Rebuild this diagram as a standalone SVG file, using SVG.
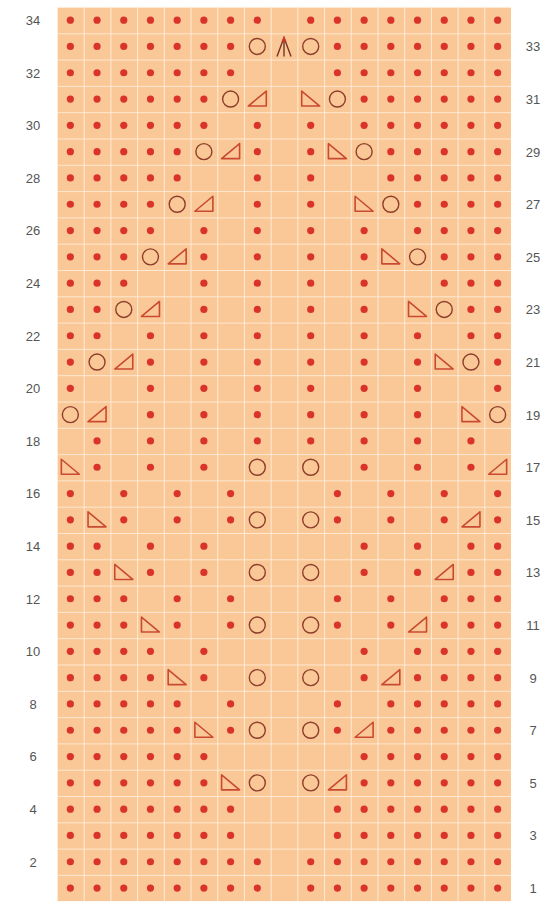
<svg xmlns="http://www.w3.org/2000/svg" xmlns:xlink="http://www.w3.org/1999/xlink" width="548" height="902" viewBox="0 0 548 902">
<style>
.lbl{font-family:"Liberation Sans",Arial,sans-serif;font-size:13px;fill:#555;text-anchor:middle}
.gl{stroke:#FFF3E6;stroke-width:1.6}
</style>
<defs>
<circle id="d" r="3.6" fill="#D9332A"/>
<circle id="o" r="8" fill="none" stroke="#8E3E2C" stroke-width="1.4"/>
<path id="r" d="M-9,7 L9,7 L9,-8 Z" fill="none" stroke="#C94A30" stroke-width="1.6" stroke-linejoin="round"/>
<path id="l" d="M-9,-8 L-9,7 L9,7 Z" fill="none" stroke="#C94A30" stroke-width="1.6" stroke-linejoin="round"/>
<g id="c"><path d="M-7,10 L0,-9 L7,10 M0,-9 L0,10" fill="none" stroke="#7A3325" stroke-width="1.4"/><path d="M-2.5,-5 L0,-10 L2.5,-5 Z" fill="#D9332A"/></g>
<pattern id="grid" x="57" y="7" width="26.706" height="26.3" patternUnits="userSpaceOnUse">
<rect width="26.706" height="26.3" fill="#FAC896"/>
<path d="M0,0 H26.706 M0,0 V26.3" class="gl"/>
</pattern>
</defs>
<rect width="548" height="902" fill="#FFFFFF"/>
<g id="chart-grid">
<rect x="57" y="7" width="454" height="894.2" fill="url(#grid)"/>
</g>
<g id="labels-left">
<text class="lbl" x="33" y="25">34</text>
<text class="lbl" x="33" y="77.6">32</text>
<text class="lbl" x="33" y="130.2">30</text>
<text class="lbl" x="33" y="182.8">28</text>
<text class="lbl" x="33" y="235.4">26</text>
<text class="lbl" x="33" y="288">24</text>
<text class="lbl" x="33" y="340.6">22</text>
<text class="lbl" x="33" y="393.2">20</text>
<text class="lbl" x="33" y="445.8">18</text>
<text class="lbl" x="33" y="498.4">16</text>
<text class="lbl" x="33" y="551">14</text>
<text class="lbl" x="33" y="603.6">12</text>
<text class="lbl" x="33" y="656.2">10</text>
<text class="lbl" x="33" y="708.8">8</text>
<text class="lbl" x="33" y="761.4">6</text>
<text class="lbl" x="33" y="814">4</text>
<text class="lbl" x="33" y="866.6">2</text>
</g>
<g id="labels-right">
<text class="lbl" x="533" y="51.3">33</text>
<text class="lbl" x="533" y="103.9">31</text>
<text class="lbl" x="533" y="156.5">29</text>
<text class="lbl" x="533" y="209.1">27</text>
<text class="lbl" x="533" y="261.7">25</text>
<text class="lbl" x="533" y="314.3">23</text>
<text class="lbl" x="533" y="366.9">21</text>
<text class="lbl" x="533" y="419.5">19</text>
<text class="lbl" x="533" y="472.1">17</text>
<text class="lbl" x="533" y="524.7">15</text>
<text class="lbl" x="533" y="577.3">13</text>
<text class="lbl" x="533" y="629.9">11</text>
<text class="lbl" x="533" y="682.5">9</text>
<text class="lbl" x="533" y="735.1">7</text>
<text class="lbl" x="533" y="787.7">5</text>
<text class="lbl" x="533" y="840.3">3</text>
<text class="lbl" x="533" y="892.9">1</text>
</g>
<g id="stitches">
<g id="row34" transform="translate(0,20.15)"><use href="#d" x="70.35"/><use href="#d" x="97.06"/><use href="#d" x="123.77"/><use href="#d" x="150.47"/><use href="#d" x="177.18"/><use href="#d" x="203.88"/><use href="#d" x="230.59"/><use href="#d" x="257.3"/><use href="#d" x="310.71"/><use href="#d" x="337.41"/><use href="#d" x="364.12"/><use href="#d" x="390.82"/><use href="#d" x="417.53"/><use href="#d" x="444.24"/><use href="#d" x="470.94"/><use href="#d" x="497.65"/></g>
<g id="row33" transform="translate(0,46.45)"><use href="#d" x="70.35"/><use href="#d" x="97.06"/><use href="#d" x="123.77"/><use href="#d" x="150.47"/><use href="#d" x="177.18"/><use href="#d" x="203.88"/><use href="#d" x="230.59"/><use href="#o" x="257.3"/><use href="#c" x="284"/><use href="#o" x="310.71"/><use href="#d" x="337.41"/><use href="#d" x="364.12"/><use href="#d" x="390.82"/><use href="#d" x="417.53"/><use href="#d" x="444.24"/><use href="#d" x="470.94"/><use href="#d" x="497.65"/></g>
<g id="row32" transform="translate(0,72.75)"><use href="#d" x="70.35"/><use href="#d" x="97.06"/><use href="#d" x="123.77"/><use href="#d" x="150.47"/><use href="#d" x="177.18"/><use href="#d" x="203.88"/><use href="#d" x="230.59"/><use href="#d" x="337.41"/><use href="#d" x="364.12"/><use href="#d" x="390.82"/><use href="#d" x="417.53"/><use href="#d" x="444.24"/><use href="#d" x="470.94"/><use href="#d" x="497.65"/></g>
<g id="row31" transform="translate(0,99.05)"><use href="#d" x="70.35"/><use href="#d" x="97.06"/><use href="#d" x="123.77"/><use href="#d" x="150.47"/><use href="#d" x="177.18"/><use href="#d" x="203.88"/><use href="#o" x="230.59"/><use href="#r" x="257.3"/><use href="#l" x="310.71"/><use href="#o" x="337.41"/><use href="#d" x="364.12"/><use href="#d" x="390.82"/><use href="#d" x="417.53"/><use href="#d" x="444.24"/><use href="#d" x="470.94"/><use href="#d" x="497.65"/></g>
<g id="row30" transform="translate(0,125.35)"><use href="#d" x="70.35"/><use href="#d" x="97.06"/><use href="#d" x="123.77"/><use href="#d" x="150.47"/><use href="#d" x="177.18"/><use href="#d" x="203.88"/><use href="#d" x="257.3"/><use href="#d" x="310.71"/><use href="#d" x="364.12"/><use href="#d" x="390.82"/><use href="#d" x="417.53"/><use href="#d" x="444.24"/><use href="#d" x="470.94"/><use href="#d" x="497.65"/></g>
<g id="row29" transform="translate(0,151.65)"><use href="#d" x="70.35"/><use href="#d" x="97.06"/><use href="#d" x="123.77"/><use href="#d" x="150.47"/><use href="#d" x="177.18"/><use href="#o" x="203.88"/><use href="#r" x="230.59"/><use href="#d" x="257.3"/><use href="#d" x="310.71"/><use href="#l" x="337.41"/><use href="#o" x="364.12"/><use href="#d" x="390.82"/><use href="#d" x="417.53"/><use href="#d" x="444.24"/><use href="#d" x="470.94"/><use href="#d" x="497.65"/></g>
<g id="row28" transform="translate(0,177.95)"><use href="#d" x="70.35"/><use href="#d" x="97.06"/><use href="#d" x="123.77"/><use href="#d" x="150.47"/><use href="#d" x="177.18"/><use href="#d" x="257.3"/><use href="#d" x="310.71"/><use href="#d" x="390.82"/><use href="#d" x="417.53"/><use href="#d" x="444.24"/><use href="#d" x="470.94"/><use href="#d" x="497.65"/></g>
<g id="row27" transform="translate(0,204.25)"><use href="#d" x="70.35"/><use href="#d" x="97.06"/><use href="#d" x="123.77"/><use href="#d" x="150.47"/><use href="#o" x="177.18"/><use href="#r" x="203.88"/><use href="#d" x="257.3"/><use href="#d" x="310.71"/><use href="#l" x="364.12"/><use href="#o" x="390.82"/><use href="#d" x="417.53"/><use href="#d" x="444.24"/><use href="#d" x="470.94"/><use href="#d" x="497.65"/></g>
<g id="row26" transform="translate(0,230.55)"><use href="#d" x="70.35"/><use href="#d" x="97.06"/><use href="#d" x="123.77"/><use href="#d" x="150.47"/><use href="#d" x="203.88"/><use href="#d" x="257.3"/><use href="#d" x="310.71"/><use href="#d" x="364.12"/><use href="#d" x="417.53"/><use href="#d" x="444.24"/><use href="#d" x="470.94"/><use href="#d" x="497.65"/></g>
<g id="row25" transform="translate(0,256.85)"><use href="#d" x="70.35"/><use href="#d" x="97.06"/><use href="#d" x="123.77"/><use href="#o" x="150.47"/><use href="#r" x="177.18"/><use href="#d" x="203.88"/><use href="#d" x="257.3"/><use href="#d" x="310.71"/><use href="#d" x="364.12"/><use href="#l" x="390.82"/><use href="#o" x="417.53"/><use href="#d" x="444.24"/><use href="#d" x="470.94"/><use href="#d" x="497.65"/></g>
<g id="row24" transform="translate(0,283.15)"><use href="#d" x="70.35"/><use href="#d" x="97.06"/><use href="#d" x="123.77"/><use href="#d" x="203.88"/><use href="#d" x="257.3"/><use href="#d" x="310.71"/><use href="#d" x="364.12"/><use href="#d" x="444.24"/><use href="#d" x="470.94"/><use href="#d" x="497.65"/></g>
<g id="row23" transform="translate(0,309.45)"><use href="#d" x="70.35"/><use href="#d" x="97.06"/><use href="#o" x="123.77"/><use href="#r" x="150.47"/><use href="#d" x="203.88"/><use href="#d" x="257.3"/><use href="#d" x="310.71"/><use href="#d" x="364.12"/><use href="#l" x="417.53"/><use href="#o" x="444.24"/><use href="#d" x="470.94"/><use href="#d" x="497.65"/></g>
<g id="row22" transform="translate(0,335.75)"><use href="#d" x="70.35"/><use href="#d" x="97.06"/><use href="#d" x="150.47"/><use href="#d" x="203.88"/><use href="#d" x="257.3"/><use href="#d" x="310.71"/><use href="#d" x="364.12"/><use href="#d" x="417.53"/><use href="#d" x="470.94"/><use href="#d" x="497.65"/></g>
<g id="row21" transform="translate(0,362.05)"><use href="#d" x="70.35"/><use href="#o" x="97.06"/><use href="#r" x="123.77"/><use href="#d" x="150.47"/><use href="#d" x="203.88"/><use href="#d" x="257.3"/><use href="#d" x="310.71"/><use href="#d" x="364.12"/><use href="#d" x="417.53"/><use href="#l" x="444.24"/><use href="#o" x="470.94"/><use href="#d" x="497.65"/></g>
<g id="row20" transform="translate(0,388.35)"><use href="#d" x="70.35"/><use href="#d" x="150.47"/><use href="#d" x="203.88"/><use href="#d" x="257.3"/><use href="#d" x="310.71"/><use href="#d" x="364.12"/><use href="#d" x="417.53"/><use href="#d" x="497.65"/></g>
<g id="row19" transform="translate(0,414.65)"><use href="#o" x="70.35"/><use href="#r" x="97.06"/><use href="#d" x="150.47"/><use href="#d" x="203.88"/><use href="#d" x="257.3"/><use href="#d" x="310.71"/><use href="#d" x="364.12"/><use href="#d" x="417.53"/><use href="#l" x="470.94"/><use href="#o" x="497.65"/></g>
<g id="row18" transform="translate(0,440.95)"><use href="#d" x="97.06"/><use href="#d" x="150.47"/><use href="#d" x="203.88"/><use href="#d" x="257.3"/><use href="#d" x="310.71"/><use href="#d" x="364.12"/><use href="#d" x="417.53"/><use href="#d" x="470.94"/></g>
<g id="row17" transform="translate(0,467.25)"><use href="#l" x="70.35"/><use href="#d" x="97.06"/><use href="#d" x="150.47"/><use href="#d" x="203.88"/><use href="#o" x="257.3"/><use href="#o" x="310.71"/><use href="#d" x="364.12"/><use href="#d" x="417.53"/><use href="#d" x="470.94"/><use href="#r" x="497.65"/></g>
<g id="row16" transform="translate(0,493.55)"><use href="#d" x="70.35"/><use href="#d" x="123.77"/><use href="#d" x="177.18"/><use href="#d" x="230.59"/><use href="#d" x="337.41"/><use href="#d" x="390.82"/><use href="#d" x="444.24"/><use href="#d" x="497.65"/></g>
<g id="row15" transform="translate(0,519.85)"><use href="#d" x="70.35"/><use href="#l" x="97.06"/><use href="#d" x="123.77"/><use href="#d" x="177.18"/><use href="#d" x="230.59"/><use href="#o" x="257.3"/><use href="#o" x="310.71"/><use href="#d" x="337.41"/><use href="#d" x="390.82"/><use href="#d" x="444.24"/><use href="#r" x="470.94"/><use href="#d" x="497.65"/></g>
<g id="row14" transform="translate(0,546.15)"><use href="#d" x="70.35"/><use href="#d" x="97.06"/><use href="#d" x="150.47"/><use href="#d" x="203.88"/><use href="#d" x="364.12"/><use href="#d" x="417.53"/><use href="#d" x="470.94"/><use href="#d" x="497.65"/></g>
<g id="row13" transform="translate(0,572.45)"><use href="#d" x="70.35"/><use href="#d" x="97.06"/><use href="#l" x="123.77"/><use href="#d" x="150.47"/><use href="#d" x="203.88"/><use href="#o" x="257.3"/><use href="#o" x="310.71"/><use href="#d" x="364.12"/><use href="#d" x="417.53"/><use href="#r" x="444.24"/><use href="#d" x="470.94"/><use href="#d" x="497.65"/></g>
<g id="row12" transform="translate(0,598.75)"><use href="#d" x="70.35"/><use href="#d" x="97.06"/><use href="#d" x="123.77"/><use href="#d" x="177.18"/><use href="#d" x="230.59"/><use href="#d" x="337.41"/><use href="#d" x="390.82"/><use href="#d" x="444.24"/><use href="#d" x="470.94"/><use href="#d" x="497.65"/></g>
<g id="row11" transform="translate(0,625.05)"><use href="#d" x="70.35"/><use href="#d" x="97.06"/><use href="#d" x="123.77"/><use href="#l" x="150.47"/><use href="#d" x="177.18"/><use href="#d" x="230.59"/><use href="#o" x="257.3"/><use href="#o" x="310.71"/><use href="#d" x="337.41"/><use href="#d" x="390.82"/><use href="#r" x="417.53"/><use href="#d" x="444.24"/><use href="#d" x="470.94"/><use href="#d" x="497.65"/></g>
<g id="row10" transform="translate(0,651.35)"><use href="#d" x="70.35"/><use href="#d" x="97.06"/><use href="#d" x="123.77"/><use href="#d" x="150.47"/><use href="#d" x="203.88"/><use href="#d" x="364.12"/><use href="#d" x="417.53"/><use href="#d" x="444.24"/><use href="#d" x="470.94"/><use href="#d" x="497.65"/></g>
<g id="row9" transform="translate(0,677.65)"><use href="#d" x="70.35"/><use href="#d" x="97.06"/><use href="#d" x="123.77"/><use href="#d" x="150.47"/><use href="#l" x="177.18"/><use href="#d" x="203.88"/><use href="#o" x="257.3"/><use href="#o" x="310.71"/><use href="#d" x="364.12"/><use href="#r" x="390.82"/><use href="#d" x="417.53"/><use href="#d" x="444.24"/><use href="#d" x="470.94"/><use href="#d" x="497.65"/></g>
<g id="row8" transform="translate(0,703.95)"><use href="#d" x="70.35"/><use href="#d" x="97.06"/><use href="#d" x="123.77"/><use href="#d" x="150.47"/><use href="#d" x="177.18"/><use href="#d" x="230.59"/><use href="#d" x="337.41"/><use href="#d" x="390.82"/><use href="#d" x="417.53"/><use href="#d" x="444.24"/><use href="#d" x="470.94"/><use href="#d" x="497.65"/></g>
<g id="row7" transform="translate(0,730.25)"><use href="#d" x="70.35"/><use href="#d" x="97.06"/><use href="#d" x="123.77"/><use href="#d" x="150.47"/><use href="#d" x="177.18"/><use href="#l" x="203.88"/><use href="#d" x="230.59"/><use href="#o" x="257.3"/><use href="#o" x="310.71"/><use href="#d" x="337.41"/><use href="#r" x="364.12"/><use href="#d" x="390.82"/><use href="#d" x="417.53"/><use href="#d" x="444.24"/><use href="#d" x="470.94"/><use href="#d" x="497.65"/></g>
<g id="row6" transform="translate(0,756.55)"><use href="#d" x="70.35"/><use href="#d" x="97.06"/><use href="#d" x="123.77"/><use href="#d" x="150.47"/><use href="#d" x="177.18"/><use href="#d" x="203.88"/><use href="#d" x="364.12"/><use href="#d" x="390.82"/><use href="#d" x="417.53"/><use href="#d" x="444.24"/><use href="#d" x="470.94"/><use href="#d" x="497.65"/></g>
<g id="row5" transform="translate(0,782.85)"><use href="#d" x="70.35"/><use href="#d" x="97.06"/><use href="#d" x="123.77"/><use href="#d" x="150.47"/><use href="#d" x="177.18"/><use href="#d" x="203.88"/><use href="#l" x="230.59"/><use href="#o" x="257.3"/><use href="#o" x="310.71"/><use href="#r" x="337.41"/><use href="#d" x="364.12"/><use href="#d" x="390.82"/><use href="#d" x="417.53"/><use href="#d" x="444.24"/><use href="#d" x="470.94"/><use href="#d" x="497.65"/></g>
<g id="row4" transform="translate(0,809.15)"><use href="#d" x="70.35"/><use href="#d" x="97.06"/><use href="#d" x="123.77"/><use href="#d" x="150.47"/><use href="#d" x="177.18"/><use href="#d" x="203.88"/><use href="#d" x="230.59"/><use href="#d" x="337.41"/><use href="#d" x="364.12"/><use href="#d" x="390.82"/><use href="#d" x="417.53"/><use href="#d" x="444.24"/><use href="#d" x="470.94"/><use href="#d" x="497.65"/></g>
<g id="row3" transform="translate(0,835.45)"><use href="#d" x="70.35"/><use href="#d" x="97.06"/><use href="#d" x="123.77"/><use href="#d" x="150.47"/><use href="#d" x="177.18"/><use href="#d" x="203.88"/><use href="#d" x="230.59"/><use href="#d" x="337.41"/><use href="#d" x="364.12"/><use href="#d" x="390.82"/><use href="#d" x="417.53"/><use href="#d" x="444.24"/><use href="#d" x="470.94"/><use href="#d" x="497.65"/></g>
<g id="row2" transform="translate(0,861.75)"><use href="#d" x="70.35"/><use href="#d" x="97.06"/><use href="#d" x="123.77"/><use href="#d" x="150.47"/><use href="#d" x="177.18"/><use href="#d" x="203.88"/><use href="#d" x="230.59"/><use href="#d" x="257.3"/><use href="#d" x="310.71"/><use href="#d" x="337.41"/><use href="#d" x="364.12"/><use href="#d" x="390.82"/><use href="#d" x="417.53"/><use href="#d" x="444.24"/><use href="#d" x="470.94"/><use href="#d" x="497.65"/></g>
<g id="row1" transform="translate(0,888.05)"><use href="#d" x="70.35"/><use href="#d" x="97.06"/><use href="#d" x="123.77"/><use href="#d" x="150.47"/><use href="#d" x="177.18"/><use href="#d" x="203.88"/><use href="#d" x="230.59"/><use href="#d" x="257.3"/><use href="#d" x="310.71"/><use href="#d" x="337.41"/><use href="#d" x="364.12"/><use href="#d" x="390.82"/><use href="#d" x="417.53"/><use href="#d" x="444.24"/><use href="#d" x="470.94"/><use href="#d" x="497.65"/></g>
</g>
</svg>
